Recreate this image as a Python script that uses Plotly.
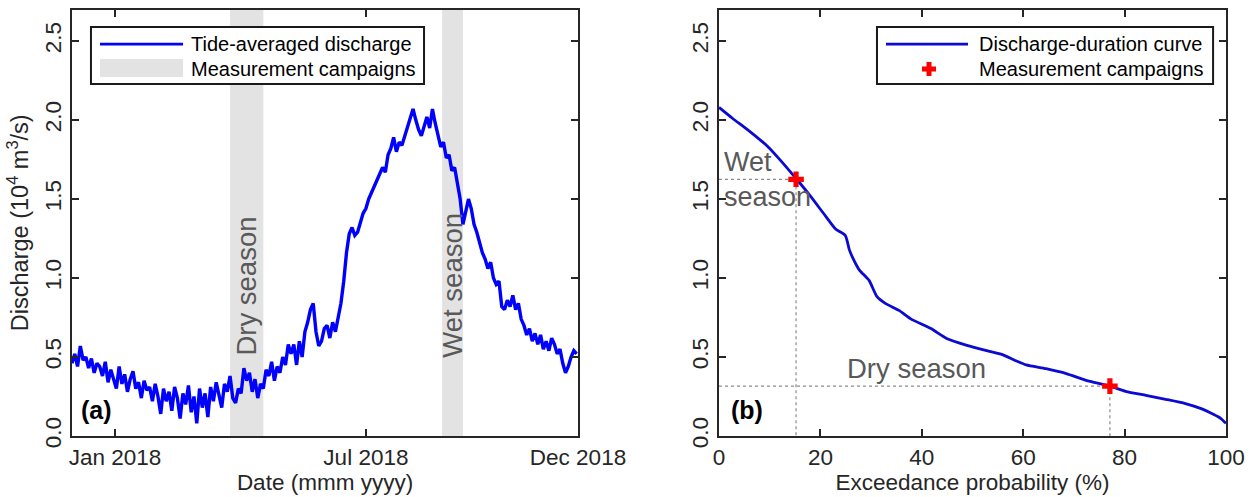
import pandas as pd
import plotly.graph_objects as go

# ---------------- data ----------------
start_date = "2017-12-01"
step = "2D"
discharge = [
    0.46, 0.52, 0.44, 0.57, 0.48, 0.50, 0.43, 0.49, 0.40, 0.46,
    0.44, 0.38, 0.47, 0.34, 0.42, 0.36, 0.30, 0.44, 0.33, 0.39,
    0.28, 0.36, 0.41, 0.30, 0.34, 0.24, 0.35, 0.29, 0.31, 0.22,
    0.33, 0.25, 0.14, 0.30, 0.22, 0.28, 0.16, 0.31, 0.24, 0.11,
    0.27, 0.20, 0.32, 0.15, 0.25, 0.08, 0.30, 0.18, 0.27, 0.12,
    0.31, 0.22, 0.34, 0.26, 0.18, 0.33, 0.28, 0.38, 0.24, 0.21,
    0.30, 0.27, 0.43, 0.35, 0.40, 0.28, 0.36, 0.24, 0.33, 0.30,
    0.42, 0.38, 0.47, 0.35, 0.44, 0.40, 0.50, 0.45, 0.58, 0.52,
    0.58, 0.45, 0.60, 0.50, 0.66, 0.72, 0.80, 0.84, 0.66, 0.57,
    0.60, 0.68, 0.70, 0.62, 0.72, 0.66, 0.76, 0.84, 0.98, 1.16,
    1.28, 1.32, 1.27, 1.29, 1.35, 1.41, 1.44, 1.50, 1.54, 1.58,
    1.63, 1.66, 1.70, 1.67, 1.78, 1.82, 1.89, 1.80, 1.86, 1.84,
    1.90, 1.96, 2.02, 2.07, 2.00, 1.94, 1.90, 1.97, 2.02, 1.95,
    2.07, 1.98, 1.90, 1.83, 1.86, 1.76, 1.78, 1.68, 1.70, 1.60,
    1.50, 1.34, 1.42, 1.50, 1.44, 1.34, 1.29, 1.22, 1.16, 1.12,
    1.06, 1.10, 1.00, 0.96, 0.98, 0.82, 0.80, 0.86, 0.82, 0.89,
    0.80, 0.84, 0.74, 0.70, 0.64, 0.68, 0.60, 0.65, 0.58, 0.64,
    0.55, 0.60, 0.54, 0.62, 0.58, 0.52, 0.55, 0.46, 0.40, 0.44,
    0.50, 0.54, 0.52,
]
dates = pd.date_range(start_date, periods=len(discharge), freq=step)

campaign_names = ["Dry season", "Wet season"]
campaign_start = ["2018-03-25", "2018-08-25"]
campaign_end = ["2018-04-18", "2018-09-09"]
campaign_label_y = [0.95, 0.955]

# discharge-duration curve
exceed_pct = [0, 2.7, 5.8, 9.7, 12.0, 15.2, 17.5, 20.6, 23.0, 24.9, 25.7, 26.5,
              27.7, 29.6, 31.2, 32.8, 35.5, 37.9, 41.8, 45.0, 48.9, 52.8, 55.9,
              58.3, 60.6, 64.5, 68.5, 72.4, 77.1, 80.2, 84.2, 88.1, 92.0, 95.1,
              97.5, 99.0, 100]
exceed_q = [2.08, 2.01, 1.935, 1.83, 1.75, 1.63, 1.54, 1.41, 1.31, 1.27, 1.18, 1.12,
            1.05, 0.985, 0.88, 0.84, 0.795, 0.74, 0.68, 0.616, 0.574, 0.54, 0.515,
            0.48, 0.45, 0.426, 0.395, 0.352, 0.316, 0.283, 0.257, 0.232, 0.205, 0.173,
            0.137, 0.11, 0.08]

campaign_pct = [15.2, 77.1]
campaign_q = [1.625, 0.316]

x_tickvals = ["2018-01-01", "2018-07-01", "2018-12-01"]
x_ticktext = ["Jan 2018", "Jul 2018", "Dec 2018"]
y_ticks = [0.0, 0.5, 1.0, 1.5, 2.0, 2.5]

# ---------------- style ----------------
FONT = "Liberation Sans, Arial, sans-serif"
AX = "#262626"
GREY_TXT = "#595959"
BAND = "#e3e3e3"
BLUE = "#0000ff"
BLUE2 = "#0a0ad2"

dom_a = [72 / 1253, 578 / 1253]
dom_b = [719 / 1253, 1226 / 1253]
dom_y = [61 / 497, 487.5 / 497]

fig = go.Figure()

# campaign bands (left panel)
for s, e in zip(campaign_start, campaign_end):
    fig.add_shape(type="rect", x0=s, x1=e, y0=0, y1=1, fillcolor=BAND, line_width=0,
                  layer="below", xref="x", yref="y domain")

fig.add_trace(go.Scatter(x=dates, y=discharge, mode="lines",
                         line=dict(color=BLUE, width=3.4),
                         showlegend=False, xaxis="x", yaxis="y"))

# campaign labels
for name, s, e, ly in zip(campaign_names, campaign_start, campaign_end, campaign_label_y):
    mid = pd.Timestamp(s) + (pd.Timestamp(e) - pd.Timestamp(s)) / 2
    fig.add_annotation(x=mid, y=ly, xref="x", yref="y", text=name, showarrow=False,
                       textangle=-90, font=dict(family=FONT, size=27.5, color=GREY_TXT))

# right panel
for p, q in zip(campaign_pct, campaign_q):
    fig.add_trace(go.Scatter(x=[0, p, p], y=[q, q, 0], mode="lines",
                             line=dict(color="#8c8c8c", width=1.2, dash="dot"),
                             showlegend=False, xaxis="x2", yaxis="y2"))

fig.add_trace(go.Scatter(x=exceed_pct, y=exceed_q, mode="lines",
                         line=dict(color=BLUE2, width=2.8, shape="spline", smoothing=0.6),
                         showlegend=False, xaxis="x2", yaxis="y2"))
fig.add_trace(go.Scatter(x=campaign_pct, y=campaign_q, mode="markers",
                         marker=dict(symbol="cross", size=13, color="#ff0000",
                                     line=dict(width=0)),
                         showlegend=False, xaxis="x2", yaxis="y2"))

fig.add_annotation(x=0.6, y=campaign_q[0], xref="x2", yref="y2", text="Wet<br>season",
                   showarrow=False, xanchor="left", align="left",
                   font=dict(family=FONT, size=27, color=GREY_TXT))
fig.add_annotation(x=39, y=0.43, xref="x2", yref="y2", text="Dry season",
                   showarrow=False, font=dict(family=FONT, size=27.5, color=GREY_TXT))

# panel letters
fig.add_annotation(x=0.014, y=0.06, xref="x domain", yref="y domain", text="<b>(a)</b>",
                   showarrow=False, xanchor="left", yanchor="middle",
                   font=dict(family=FONT, size=25, color="#000"))
fig.add_annotation(x=0.020, y=0.06, xref="x2 domain", yref="y2 domain", text="<b>(b)</b>",
                   showarrow=False, xanchor="left", yanchor="middle",
                   font=dict(family=FONT, size=25, color="#000"))

# ---------- hand-drawn legends ----------
def legend_box(xr, yr, x0, x1):
    fig.add_shape(type="rect", xref=xr, yref=yr, x0=x0, x1=x1, y0=0.8253, y1=0.959,
                  line=dict(color="#1a1a1a", width=2), fillcolor="white", layer="above")

def legend_text(xr, yr, x, y, txt):
    fig.add_annotation(x=x, y=y, xref=xr, yref=yr, text=txt, showarrow=False,
                       xanchor="left", yanchor="middle",
                       font=dict(family=FONT, size=20, color="#000"))

legend_box("x domain", "y domain", 0.0375, 0.6957)
fig.add_shape(type="line", xref="x domain", yref="y domain", x0=0.0553, x1=0.2194,
              y0=0.919, y1=0.919, line=dict(color=BLUE, width=2.8), layer="above")
fig.add_shape(type="rect", xref="x domain", yref="y domain", x0=0.0553, x1=0.2194,
              y0=0.8417, y1=0.884, fillcolor=BAND, line_width=0, layer="above")
legend_text("x domain", "y domain", 0.2312, 0.919, "Tide-averaged discharge")
legend_text("x domain", "y domain", 0.2312, 0.8605, "Measurement campaigns")

legend_box("x2 domain", "y2 domain", 0.3116, 0.9745)
fig.add_shape(type="line", xref="x2 domain", yref="y2 domain", x0=0.3294, x1=0.4911,
              y0=0.919, y1=0.919, line=dict(color=BLUE2, width=2.8), layer="above")
cx, cy, hw, ht, tw, tt = 0.4142, 0.8605, 0.0138, 0.0164, 0.0049, 0.0059
fig.add_shape(type="rect", xref="x2 domain", yref="y2 domain", x0=cx - hw, x1=cx + hw,
              y0=cy - tt, y1=cy + tt, fillcolor="#ff0000", line_width=0, layer="above")
fig.add_shape(type="rect", xref="x2 domain", yref="y2 domain", x0=cx - tw, x1=cx + tw,
              y0=cy - ht, y1=cy + ht, fillcolor="#ff0000", line_width=0, layer="above")
legend_text("x2 domain", "y2 domain", 0.5089, 0.919, "Discharge-duration curve")
legend_text("x2 domain", "y2 domain", 0.5089, 0.8605, "Measurement campaigns")

axis_common = dict(showline=True, linecolor=AX, linewidth=2, mirror="ticks",
                   ticks="inside", ticklen=7, tickwidth=1.5, tickcolor=AX,
                   showgrid=False, zeroline=False, automargin=False,
                   tickfont=dict(family=FONT, size=22.5, color=AX))

fig.update_layout(
    width=1253, height=497, autosize=False, margin=dict(l=0, r=0, t=0, b=0, pad=0),
    paper_bgcolor="white", plot_bgcolor="white", showlegend=False,
    xaxis=dict(domain=dom_a, type="date", range=["2017-12-01", "2018-12-01"],
               tickvals=x_tickvals, ticktext=x_ticktext, anchor="y",
               title=dict(text="Date (mmm yyyy)", standoff=4,
                          font=dict(family=FONT, size=22.5, color=AX)),
               **axis_common),
    yaxis=dict(domain=dom_y, range=[0, 2.7], tickvals=y_ticks, tickformat=".1f",
               tickangle=-90, anchor="x",
               title=dict(text="Discharge (10<sup>4</sup> m<sup>3</sup>/s)", standoff=6,
                          font=dict(family=FONT, size=23.5, color=AX)),
               **axis_common),
    xaxis2=dict(domain=dom_b, range=[0, 100], tickvals=[0, 20, 40, 60, 80, 100],
                anchor="y2",
                title=dict(text="Exceedance probability (%)", standoff=4,
                           font=dict(family=FONT, size=22.5, color=AX)),
                **axis_common),
    yaxis2=dict(domain=dom_y, range=[0, 2.7], tickvals=y_ticks, tickformat=".1f",
                tickangle=-90, anchor="x2", **axis_common),
)

fig.write_html(
    "out.html",
    config={"displayModeBar": False},
    post_script=(
        "document.body.style.margin='0px';"
        "document.body.style.overflow='hidden';"
    ),
)
